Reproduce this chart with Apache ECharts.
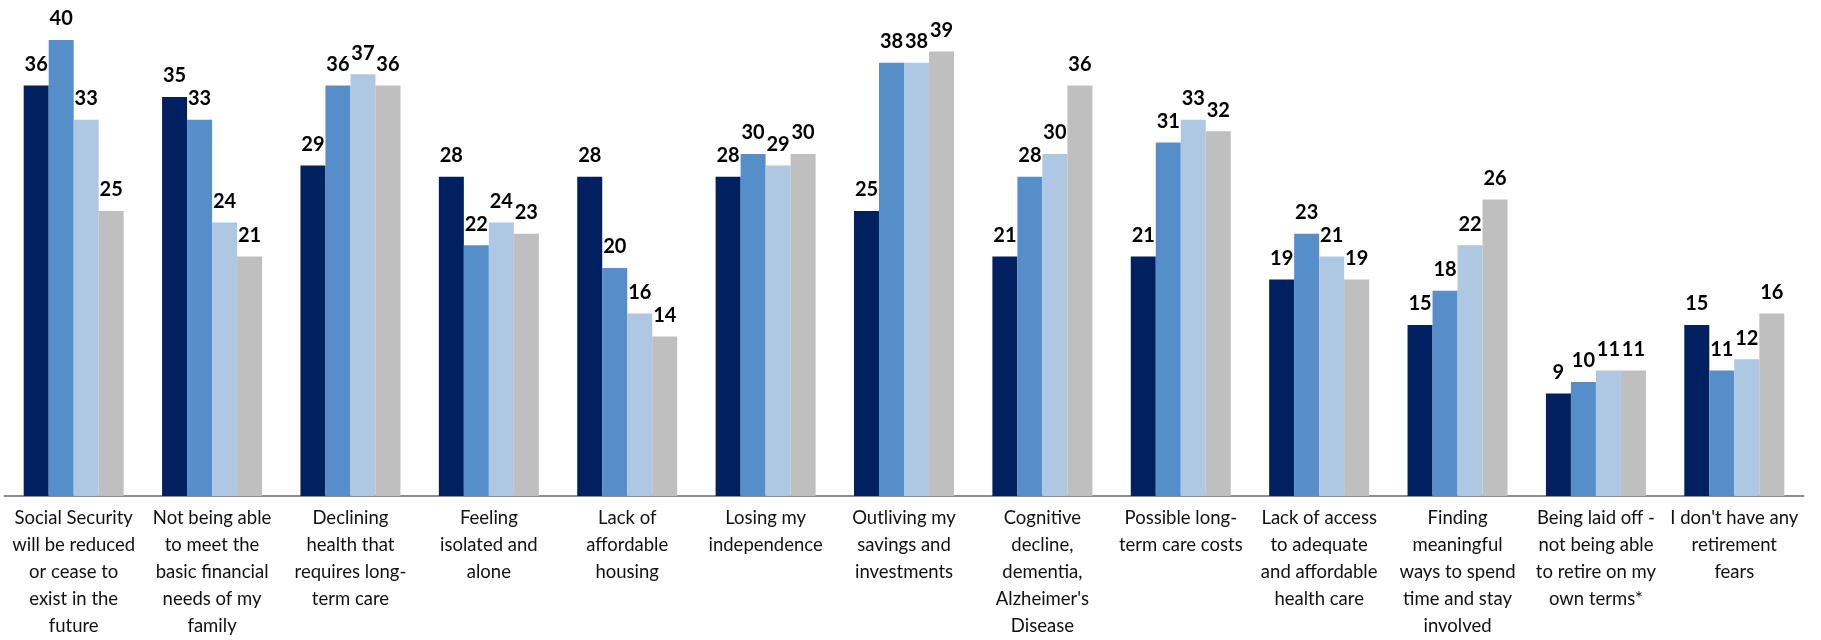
<!DOCTYPE html>
<html>
<head>
<meta charset="utf-8">
<script src="https://cdn.jsdelivr.net/npm/echarts@6/dist/echarts.min.js"></script>
<style>
html,body{margin:0;padding:0;background:#fff;}
#chart{width:1821px;height:640px;}
</style>
</head>
<body>
<div id="chart"></div>
<script>
const categories = [
  "Social Security\nwill be reduced\nor cease to\nexist in the\nfuture",
  "Not being able\nto meet the\nbasic financial\nneeds of my\nfamily",
  "Declining\nhealth that\nrequires long-\nterm care",
  "Feeling\nisolated and\nalone",
  "Lack of\naffordable\nhousing",
  "Losing my\nindependence",
  "Outliving my\nsavings and\ninvestments",
  "Cognitive\ndecline,\ndementia,\nAlzheimer's\nDisease",
  "Possible long-\nterm care costs",
  "Lack of access\nto adequate\nand affordable\nhealth care",
  "Finding\nmeaningful\nways to spend\ntime and stay\ninvolved",
  "Being laid off -\nnot being able\nto retire on my\nown terms*",
  "I don't have any\nretirement\nfears"
];
const series1 = [36, 35, 29, 28, 28, 28, 25, 21, 21, 19, 15, 9, 15];
const series2 = [40, 33, 36, 22, 20, 30, 38, 28, 31, 23, 18, 10, 11];
const series3 = [33, 24, 37, 24, 16, 29, 38, 30, 33, 21, 22, 11, 12];
const series4 = [25, 21, 36, 23, 14, 30, 39, 36, 32, 19, 26, 11, 16];
const seriesNames = ["Series 1", "Series 2", "Series 3", "Series 4"];
const colors = ["#002060", "#558ec8", "#aec8e4", "#bfbfbf"];

const font = "Lato, 'Open Sans', sans-serif";
const chart = echarts.init(document.getElementById('chart'), null, {renderer: 'canvas'});
const allData = [series1, series2, series3, series4];
chart.setOption({
  animation: false,
  backgroundColor: '#ffffff',
  grid: {left: 4.5, right: 17.5, top: 40, bottom: 141.5, containLabel: false},
  xAxis: {
    type: 'category',
    data: categories,
    axisLine: {show: true, lineStyle: {color: '#8c8c8c', width: 2}},
    axisTick: {show: false},
    axisLabel: {
      interval: 0,
      margin: 9,
      fontFamily: font,
      fontSize: 18.5,
      lineHeight: 27,
      color: '#111111',
      align: 'center'
    }
  },
  yAxis: {
    type: 'value',
    min: 0,
    max: 40,
    show: false,
    splitLine: {show: false}
  },
  series: allData.map((d, i) => ({
    name: seriesNames[i],
    type: 'bar',
    data: d,
    barWidth: 25,
    barGap: '0%',
    itemStyle: {color: colors[i]},
    label: {
      show: true,
      position: 'top',
      distance: 11,
      fontFamily: font,
      fontWeight: 'bold',
      fontSize: 20,
      color: '#000000'
    }
  }))
});
</script>
</body>
</html>
